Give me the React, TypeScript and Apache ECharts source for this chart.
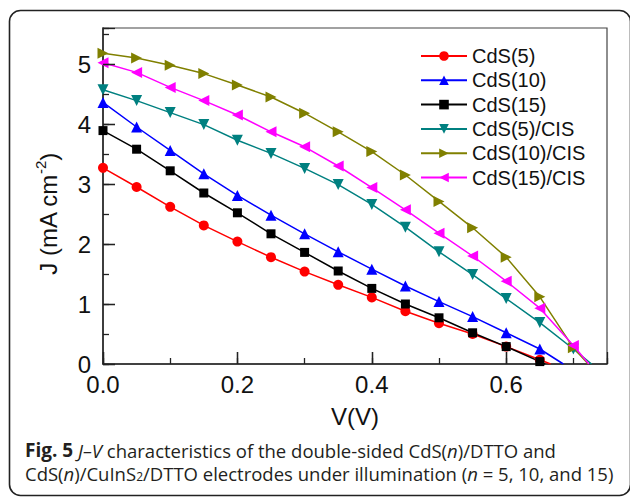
import React, { useEffect, useRef } from "react";
import * as echarts from "echarts";

// Applied voltage (V)
const voltages = [0, 0.05, 0.1, 0.15, 0.2, 0.25, 0.3, 0.35, 0.4, 0.45, 0.5, 0.55, 0.6, 0.65, 0.7];

// Current density J (mA cm^-2)
const cds5 = [3.27, 2.95, 2.62, 2.31, 2.04, 1.78, 1.54, 1.32, 1.11, 0.88, 0.68, 0.5, 0.29, 0.07];
const cds10 = [4.36, 3.95, 3.56, 3.17, 2.81, 2.48, 2.17, 1.87, 1.58, 1.3, 1.04, 0.79, 0.52, 0.25];
const cds15 = [3.89, 3.58, 3.22, 2.85, 2.52, 2.17, 1.86, 1.55, 1.26, 1.0, 0.77, 0.52, 0.29, 0.04];
const cds5Cis = [4.57, 4.39, 4.19, 3.99, 3.73, 3.51, 3.26, 2.99, 2.66, 2.28, 1.87, 1.49, 1.09, 0.69, 0.25];
const cds10Cis = [5.18, 5.1, 4.98, 4.84, 4.65, 4.45, 4.18, 3.87, 3.54, 3.15, 2.71, 2.27, 1.78, 1.12, 0.27];
const cds15Cis = [5.02, 4.86, 4.61, 4.39, 4.15, 3.87, 3.62, 3.3, 2.94, 2.57, 2.18, 1.8, 1.38, 0.93, 0.31];

// Voltage where each curve meets J = 0
const openCircuit = [0.666, 0.685, 0.658, 0.727, 0.722, 0.723];

const seriesNames = ["CdS(5)", "CdS(10)", "CdS(15)", "CdS(5)/CIS", "CdS(10)/CIS", "CdS(15)/CIS"];
const seriesValues = [cds5, cds10, cds15, cds5Cis, cds10Cis, cds15Cis];

const colors = ["#ff0000", "#0000ff", "#000000", "#008080", "#808000", "#ff00ff"];
const symbols = ["circle", "triangle", "rect", "triangle", "triangle", "triangle"];
const rotations = [0, 0, 0, 180, -90, 90];
const sizes = [10, 11, 9, 11, 11, 11];

const FONT = "'Liberation Sans', Arial, Helvetica, sans-serif";
const CAP_FONT = "'Open Sans', 'Noto Sans', sans-serif";
const AX = "#222";
const CAP_SIZE = 18.5;
const X_MAX = 0.75;
const Y_MAX = 5.6;

const GRID_POS = { left: 103, top: 28, right: 23, bottom: 133 };

const layerStyle = (z: number): React.CSSProperties => ({
  position: "fixed",
  left: 0,
  top: 0,
  width: 630,
  height: 497,
  zIndex: z,
  pointerEvents: "none",
});

// Frame, axis title and caption
function backOption(): any {
  return {
    animation: false,
    backgroundColor: "#ffffff",
    graphic: [
      {
        type: "rect",
        silent: true,
        shape: { x: 9.5, y: 10.5, width: 621, height: 485, r: 11 },
        style: { fill: "none", stroke: "#222", lineWidth: 1.6 },
      },
      {
        type: "text",
        silent: true,
        x: 48,
        y: 214,
        rotation: Math.PI / 2,
        style: {
          text: "{a|J (mA cm}{s|-2}{a|)}",
          textAlign: "center",
          textVerticalAlign: "middle",
          fill: "#111",
          rich: {
            a: { fontSize: 24, fontFamily: FONT, fill: "#111", lineHeight: 30 },
            s: { fontSize: 15, fontFamily: FONT, fill: "#111", lineHeight: 14, verticalAlign: "top" },
          },
        },
      },
      {
        type: "text",
        silent: true,
        x: 25,
        y: 450,
        style: {
          text: "{b|Fig. 5} {i|J–V} characteristics of the double-sided CdS({i|n})/DTTO and",
          textAlign: "left",
          textVerticalAlign: "middle",
          fontSize: CAP_SIZE,
          fontFamily: CAP_FONT,
          fill: "#231f20",
          lineHeight: 18,
          rich: {
            b: { fontSize: CAP_SIZE + 0.5, fontFamily: CAP_FONT, fontWeight: "bold", fill: "#231f20", lineHeight: 18 },
            i: { fontSize: CAP_SIZE, fontFamily: CAP_FONT, fontStyle: "italic", fill: "#231f20", lineHeight: 18 },
          },
        },
      },
      {
        type: "text",
        silent: true,
        x: 25,
        y: 473,
        style: {
          text: "CdS({i|n})/CuInS{sub|2}/DTTO electrodes under illumination ({i|n} = 5, 10, and 15)",
          textAlign: "left",
          textVerticalAlign: "middle",
          fontSize: CAP_SIZE,
          fontFamily: CAP_FONT,
          fill: "#231f20",
          lineHeight: 18,
          rich: {
            i: { fontSize: CAP_SIZE, fontFamily: CAP_FONT, fontStyle: "italic", fill: "#231f20", lineHeight: 18 },
            sub: { fontSize: 12, fontFamily: CAP_FONT, fill: "#231f20", verticalAlign: "bottom", lineHeight: 12 },
          },
        },
      },
    ],
  };
}

const tickAxis = (max: number, interval: number, length: number, position: string) => ({
  type: "value",
  min: 0,
  max,
  interval,
  position,
  axisLine: { show: false, onZero: false },
  axisTick: { show: true, inside: true, length, lineStyle: { color: AX, width: 1.3 } },
  axisLabel: { show: false },
  splitLine: { show: false },
});

// Data, axes, labels, legend
function mainOption(): any {
  const series = seriesValues.map((vals, k) => ({
    name: seriesNames[k],
    type: "line",
    symbol: symbols[k],
    symbolRotate: rotations[k],
    symbolSize: sizes[k],
    color: colors[k],
    lineStyle: { color: colors[k], width: 1.5 },
    itemStyle: { color: colors[k] },
    data: [
      ...vals.map((v, i) => [voltages[i], v]),
      { value: [openCircuit[k], 0], symbol: "none" },
    ],
  }));

  const xMajorFmt = (v: number) => (Math.abs(v / 0.2 - Math.round(v / 0.2)) < 1e-6 ? v.toFixed(1) : "");
  const yMajorFmt = (v: number) => (Math.abs(v - Math.round(v)) < 1e-6 ? String(Math.round(v)) : "");

  return {
    animation: false,
    grid: {
      ...GRID_POS,
      show: true,
      borderColor: "#444",
      borderWidth: 1.2,
      backgroundColor: "transparent",
    },
    legend: {
      orient: "vertical",
      left: 420,
      top: 46,
      padding: 0,
      itemWidth: 46,
      itemHeight: 12,
      itemGap: 4.3,
      textStyle: { fontSize: 20, fontFamily: FONT, color: "#111" },
      data: seriesNames,
      selectedMode: false,
    },
    xAxis: {
      type: "value",
      min: 0,
      max: X_MAX,
      interval: 0.2,
      position: "bottom",
      axisLine: { show: true, onZero: false, lineStyle: { color: AX, width: 1.5 } },
      axisTick: { show: true, inside: true, length: 12, lineStyle: { color: AX, width: 1.3 } },
      axisLabel: {
        formatter: xMajorFmt,
        showMaxLabel: false,
        fontSize: 24,
        fontFamily: FONT,
        color: "#111",
        margin: 8,
      },
      splitLine: { show: false },
      name: "V(V)",
      nameLocation: "middle",
      nameGap: 40,
      nameTextStyle: { fontSize: 24, fontFamily: FONT, color: "#111" },
    },
    yAxis: {
      type: "value",
      min: 0,
      max: Y_MAX,
      interval: 1,
      position: "left",
      axisLine: { show: true, onZero: false, lineStyle: { color: AX, width: 1.5 } },
      axisTick: { show: true, inside: true, length: 12, lineStyle: { color: AX, width: 1.3 } },
      axisLabel: {
        formatter: yMajorFmt,
        showMaxLabel: false,
        fontSize: 24,
        fontFamily: FONT,
        color: "#111",
        margin: 12,
      },
      splitLine: { show: false },
    },
    series,
  };
}

// Major and minor tick marks on the same grid position
function tickOption(): any {
  return {
    animation: false,
    grid: { ...GRID_POS, show: false },
    xAxis: [tickAxis(X_MAX, 0.2, 12, "bottom"), tickAxis(X_MAX, 0.1, 6, "bottom")],
    yAxis: [tickAxis(Y_MAX, 1, 12, "left"), tickAxis(Y_MAX, 0.5, 6, "left")],
    series: [],
  };
}

function Layer({ make, z }: { make: () => any; z: number }) {
  const ref = useRef<HTMLDivElement>(null);
  useEffect(() => {
    if (!ref.current) return;
    const chart = echarts.init(ref.current, undefined, { renderer: "svg" });
    chart.setOption(make());
    return () => chart.dispose();
  }, [make]);
  return <div ref={ref} style={layerStyle(z)} />;
}

export default function App() {
  return (
    <div style={{ position: "fixed", left: 0, top: 0, width: 630, height: 497, background: "#fff" }}>
      <Layer make={backOption} z={0} />
      <Layer make={mainOption} z={1} />
      <Layer make={tickOption} z={2} />
    </div>
  );
}
